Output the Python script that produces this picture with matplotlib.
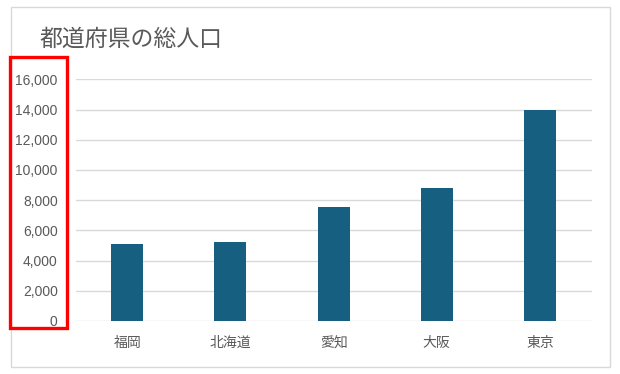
import matplotlib
matplotlib.use("Agg")
import matplotlib.pyplot as plt
from matplotlib.patches import Rectangle

plt.rcParams['font.family'] = ['Liberation Sans', 'Noto Sans CJK JP', 'DejaVu Sans']

title = "都道府県の総人口"
categories = ["福岡", "北海道", "愛知", "大阪", "東京"]
values = [5100, 5250, 7550, 8800, 13950]
yticks = [0, 2000, 4000, 6000, 8000, 10000, 12000, 14000, 16000]

W, H = 620, 374
fig = plt.figure(figsize=(W / 100, H / 100), dpi=100)

def fx(x): return x / W
def fy(y): return 1 - y / H

left, right, top, bottom = 75.7, 591.5, 79.3, 321.0
ax = fig.add_axes([fx(left), fy(bottom), fx(right - left), (bottom - top) / H])

ax.bar(range(len(categories)), values, width=0.31, color="#175f81", zorder=3)
ax.set_xlim(-0.5, len(categories) - 0.5)
ax.set_ylim(0, 16000)
ax.set_yticks(yticks)
ax.set_yticklabels([f"{v:,}" for v in yticks])
ax.set_xticks(range(len(categories)))
ax.set_xticklabels(categories, family=['Noto Sans CJK JP', 'DejaVu Sans'])
ax.grid(axis='y', color="#d9d9d9", linewidth=1, zorder=0)
for s in ax.spines.values():
    s.set_visible(False)
ax.tick_params(axis='both', length=0, colors="#595959", labelsize=10)
ax.tick_params(axis='y', pad=13)
ax.tick_params(axis='x', pad=11)

fig.text(fx(40), fy(39), title, fontsize=16.5, color="#595959",
         family=['Noto Sans CJK JP', 'DejaVu Sans'], va='center', ha='left')

# outer chart border
fig.patches.append(Rectangle((fx(10.5), fy(367.3)), fx(609.7 - 10.5), (367.3 - 7) / H,
                             transform=fig.transFigure, fill=False,
                             edgecolor="#d9d9d9", linewidth=1))
# red highlight box around y-axis labels
fig.patches.append(Rectangle((fx(10), fy(328)), fx(66.5 - 10), (328 - 56.5) / H,
                             transform=fig.transFigure, fill=False,
                             edgecolor="#ff0000", linewidth=2.4, zorder=10))

fig.savefig("out.png", dpi=100)
